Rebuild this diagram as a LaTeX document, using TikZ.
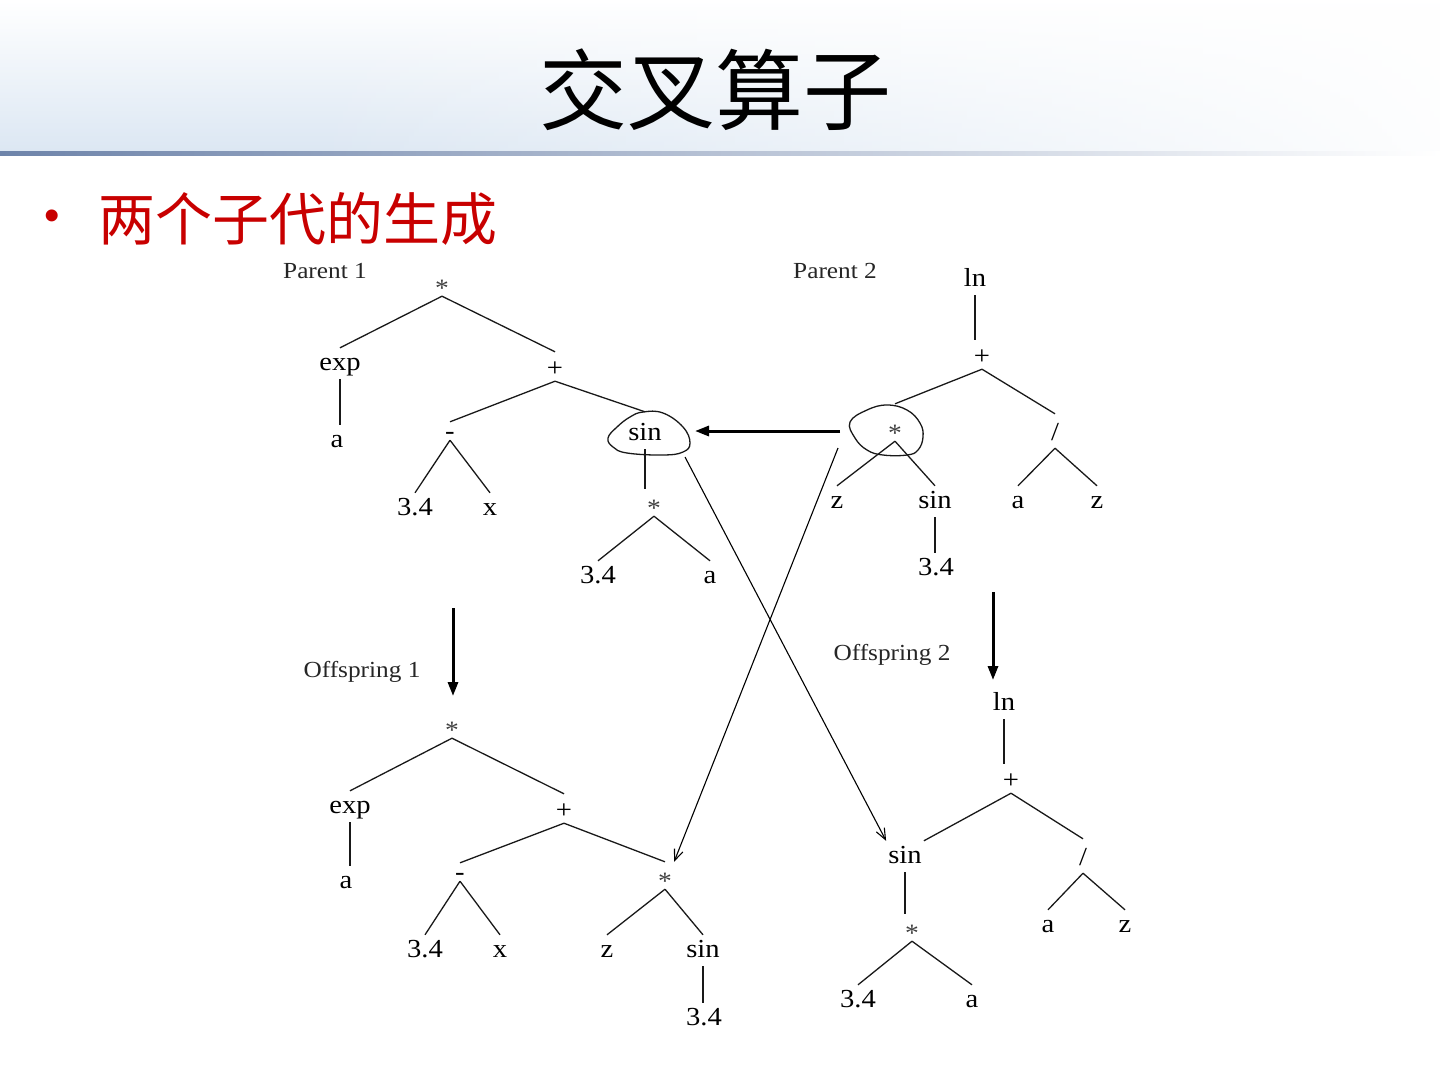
\documentclass[tikz,border=0pt]{standalone}
\usepackage{fontspec}
\setmainfont{Liberation Serif}
\newfontfamily\treefont[FakeStretch=1.1]{Liberation Serif}
\newfontfamily\cjk{Noto Sans CJK SC}
\newfontfamily\sansf{Liberation Sans}
\usetikzlibrary{arrows.meta,fadings}
\definecolor{redA}{RGB}{200,0,0}
\definecolor{hdrA}{RGB}{220,231,243}
\definecolor{lineA}{RGB}{110,132,170}
\tikzset{
  tn/.style={font=\treefont\fontsize{26}{28}\selectfont, anchor=base, inner xsep=2pt, inner ysep=3pt, text height=19pt, text depth=6pt},
  plusn/.style={tn, text height=21pt, text depth=2pt},
  minusn/.style={tn, inner ysep=0pt, text height=17pt, text depth=1pt},
  slashn/.style={tn, text height=23pt, text depth=5pt},
  astn/.style={tn, font=\treefont\fontsize{25}{26}\selectfont, text=black!75, inner ysep=0pt, text height=27pt, text depth=0pt},
  capn/.style={font=\treefont\fontsize{23}{25}\selectfont, anchor=base, text=black!85},
  edge/.style={line width=1.3pt, black!90},
  bigarrow/.style={line width=3pt, -{Triangle[length=14pt,width=10pt]}},
  crossarrow/.style={line width=1.1pt, -{Straight Barb[length=11pt,width=9pt]}},
  blob/.style={line width=1.3pt, black!90},
}
\begin{document}
\begin{tikzpicture}[x=1pt,y=-1pt]
\useasboundingbox (0,0) rectangle (1440,1080);
% header
\shade[top color=white, bottom color=hdrA] (0,0) rectangle (1440,151);
\fill[white, path fading=west] (300,-5) rectangle (1500,151);
\shade[left color=lineA, right color=white] (0,151) rectangle (1440,155);
\node[font=\cjk\fontsize{88}{90}\selectfont] (title) at (715,90) {交叉算子};
\node[font=\sansf\fontsize{44}{48}\selectfont, text=redA] (bul) at (52,220) {•};
\node[font=\cjk\fontsize{57}{60}\selectfont, text=redA, anchor=west, inner sep=0pt] (sub) at (98,219) {两个子代的生成};

% ---------- Parent 1
\node[capn] (cap1) at (325,278) {Parent 1};
\node[astn] (r1) at (442,296) {*};
\node[tn] (exp1) at (340,370) {exp};
\node[plusn] (plus1) at (555,376) {+};
\node[tn] (a1) at (337,447) {a};
\node[minusn] (min1) at (450,439) {-};
\node[tn] (sin1) at (645,440) {sin};
\node[tn] (n1a) at (415,515) {3.4};
\node[tn] (x1) at (490,515) {x};
\node[astn] (st1) at (654,516) {*};
\node[tn] (n1b) at (598,583) {3.4};
\node[tn] (a1b) at (710,583) {a};
\draw[edge] (r1.south) -- (exp1.north);
\draw[edge] (r1.south) -- (plus1.north);
\draw[edge] (exp1.south) -- (exp1.south |- a1.north);
\draw[edge] (plus1.south) -- (min1.north);
\draw[edge] (plus1.south) -- ([yshift=6pt]sin1.north);
\draw[edge] (min1.south) -- (n1a.north);
\draw[edge] (min1.south) -- (x1.north);
\draw[edge] (sin1.south) -- (sin1.south |- st1.north);
\draw[edge] (st1.south) -- (n1b.north);
\draw[edge] (st1.south) -- (a1b.north);
\draw[blob] plot[smooth cycle, tension=0.7] coordinates {(643,412) (663,413) (683,427) (690,443) (683,452) (663,455) (627,453) (613,447) (608,438) (617,427) (630,417)};

% ---------- Parent 2
\node[capn] (cap2) at (835,278) {Parent 2};
\node[tn] (ln2) at (975,286) {ln};
\node[plusn] (plus2) at (982,364) {+};
\node[astn] (st2) at (895,441) {*};
\node[slashn] (sl2) at (1055,440) {/};
\node[tn] (z2) at (837,508) {z};
\node[tn] (sin2) at (935,508) {sin};
\node[tn] (a2) at (1018,508) {a};
\node[tn] (z2b) at (1097,508) {z};
\node[tn] (n2) at (936,575) {3.4};
\draw[edge] (ln2.south) -- (ln2.south |- plus2.north);
\draw[edge] (plus2.south) -- ([yshift=10pt]st2.north);
\draw[edge] (plus2.south) -- (sl2.north);
\draw[edge] (st2.south) -- (z2.north);
\draw[edge] (st2.south) -- (sin2.north);
\draw[edge] (sin2.south) -- (sin2.south |- n2.north);
\draw[edge] (sl2.south) -- (a2.north);
\draw[edge] (sl2.south) -- (z2b.north);
\draw[blob] plot[smooth cycle, tension=0.7] coordinates {(850,422) (867,410) (887,405) (907,410) (920,423) (923,437) (918,450) (907,455) (883,455) (867,450) (855,438)};

% swap arrow
\coordinate (hs) at (840,431);
\coordinate (he) at (695,431);
\draw[bigarrow] (hs) -- (he);

% ---------- Offspring 1
\coordinate (d1s) at (453,608);
\coordinate (d1e) at (453,696);
\draw[bigarrow] (d1s) -- (d1e);
\node[capn] (cap3) at (362,677) {Offspring 1};
\node[astn] (r3) at (452,738) {*};
\node[tn] (exp3) at (350,813) {exp};
\node[plusn] (plus3) at (564,818) {+};
\node[tn] (a3) at (346,888) {a};
\node[minusn] (min3) at (460,880) {-};
\node[astn] (st3) at (665,889) {*};
\node[tn] (n3a) at (425,957) {3.4};
\node[tn] (x3) at (500,957) {x};
\node[tn] (z3) at (607,957) {z};
\node[tn] (sin3) at (703,957) {sin};
\node[tn] (n3b) at (704,1025) {3.4};
\draw[edge] (r3.south) -- (exp3.north);
\draw[edge] (r3.south) -- (plus3.north);
\draw[edge] (exp3.south) -- (exp3.south |- a3.north);
\draw[edge] (plus3.south) -- (min3.north);
\draw[edge] (plus3.south) -- (st3.north);
\draw[edge] (min3.south) -- (n3a.north);
\draw[edge] (min3.south) -- (x3.north);
\draw[edge] (st3.south) -- (z3.north);
\draw[edge] (st3.south) -- (sin3.north);
\draw[edge] (sin3.south) -- (sin3.south |- n3b.north);

% ---------- Offspring 2
\coordinate (d2s) at (993,592);
\coordinate (d2e) at (993,680);
\draw[bigarrow] (d2s) -- (d2e);
\node[capn] (cap4) at (892,660) {Offspring 2};
\node[tn] (ln4) at (1004,710) {ln};
\node[plusn] (plus4) at (1011,788) {+};
\node[tn] (sin4) at (905,863) {sin};
\node[slashn] (sl4) at (1083,865) {/};
\node[astn] (st4) at (912,941) {*};
\node[tn] (a4) at (1048,932) {a};
\node[tn] (z4) at (1125,932) {z};
\node[tn] (n4) at (858,1007) {3.4};
\node[tn] (a4b) at (972,1007) {a};
\draw[edge] (ln4.south) -- (ln4.south |- plus4.north);
\draw[edge] (plus4.south) -- (sin4.north east);
\draw[edge] (plus4.south) -- (sl4.north);
\draw[edge] (sin4.south) -- (sin4.south |- st4.north);
\draw[edge] (sl4.south) -- (a4.north);
\draw[edge] (sl4.south) -- (z4.north);
\draw[edge] (st4.south) -- (n4.north);
\draw[edge] (st4.south) -- (a4b.north);

% crossing arrows
\coordinate (c1s) at (685,457);
\coordinate (c2s) at (838,448);
\draw[crossarrow] (c1s) -- (sin4.north west);
\draw[crossarrow] (c2s) -- (st3.north east);
\end{tikzpicture}
\end{document}
